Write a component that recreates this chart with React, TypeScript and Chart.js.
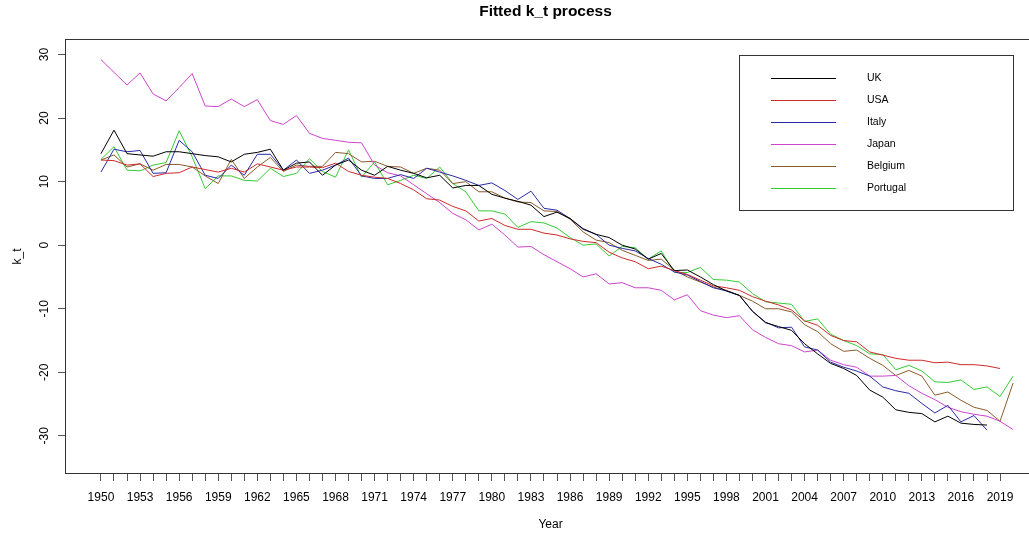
import React, { useEffect, useRef } from "react";
import { Chart, registerables } from "chart.js";

Chart.register(...registerables);

const YEARS = [
  1950, 1951, 1952, 1953, 1954, 1955, 1956, 1957, 1958, 1959,
  1960, 1961, 1962, 1963, 1964, 1965, 1966, 1967, 1968, 1969,
  1970, 1971, 1972, 1973, 1974, 1975, 1976, 1977, 1978, 1979,
  1980, 1981, 1982, 1983, 1984, 1985, 1986, 1987, 1988, 1989,
  1990, 1991, 1992, 1993, 1994, 1995, 1996, 1997, 1998, 1999,
  2000, 2001, 2002, 2003, 2004, 2005, 2006, 2007, 2008, 2009,
  2010, 2011, 2012, 2013, 2014, 2015, 2016, 2017, 2018, 2019,
  2020,
];

const UK = [
  14.4, 18.1, 14.4, 14.2, 14.0, 14.7, 14.7, 14.4, 14.1, 13.9,
  13.1, 14.3, 14.6, 15.1, 11.8, 12.9, 13.1, 11.0, 12.6, 13.4,
  11.8, 11.0, 12.4, 11.8, 11.3, 10.6, 11.0, 9.0, 9.4, 9.4,
  8.0, 7.4, 6.9, 6.3, 4.5, 5.2, 4.2, 2.6, 1.7, 1.2,
  0.0, -0.6, -2.2, -1.3, -4.0, -3.9, -5.0, -6.2, -7.2, -7.9,
  -10.4, -12.2, -12.8, -13.4, -15.5, -17.1, -18.6, -19.4, -20.5, -22.8,
  -23.9, -25.9, -26.3, -26.5, -27.8, -26.9, -28.0, -28.2, -28.3, null,
  null,
];

const USA = [
  13.4, 13.3, 12.6, 12.8, 10.8, 11.3, 11.4, 12.3, 11.9, 11.5,
  12.1, 11.5, 12.8, 12.3, 11.8, 12.3, 12.3, 12.2, 12.9, 11.6,
  11.0, 10.7, 10.5, 9.7, 8.7, 7.3, 7.1, 6.1, 5.4, 3.8,
  4.2, 3.1, 2.5, 2.5, 1.9, 1.6, 1.0, 0.6, 0.4, -1.1,
  -2.0, -2.6, -3.7, -3.3, -4.0, -4.6, -5.5, -6.4, -6.7, -7.1,
  -8.1, -8.8, -9.4, -10.2, -11.9, -12.6, -14.2, -15.0, -15.2, -16.8,
  -17.3, -17.8, -18.1, -18.1, -18.5, -18.4, -18.8, -18.8, -19.0, -19.4,
  null,
];

const ITALY = [
  11.5, 15.1, 14.7, 14.9, 11.3, 11.4, 16.5, 14.7, 11.0, 10.5,
  12.6, 11.0, 14.3, 14.3, 11.8, 13.4, 11.3, 11.8, 12.6, 13.7,
  10.9, 10.5, 10.5, 11.1, 10.5, 12.1, 11.5, 10.9, 10.2, 9.4,
  9.8, 8.6, 7.2, 8.5, 5.8, 5.5, 4.2, 2.5, 1.7, 0.0,
  -0.5, -0.9, -2.1, -3.0, -4.2, -4.7, -5.7, -6.7, -7.2, -7.9,
  -10.4, -12.1, -13.0, -12.9, -16.0, -16.5, -18.4, -19.2, -19.8, -20.6,
  -22.3, -22.9, -23.3, -24.9, -26.4, -25.2, -27.8, -26.8, -29.1, null,
  null,
];

const JAPAN = [
  29.2, 27.2, 25.2, 27.1, 23.8, 22.7, 24.8, 27.0, 21.9, 21.8,
  23.0, 21.8, 22.9, 19.6, 19.0, 20.4, 17.6, 16.8, 16.5, 16.2,
  16.1, 12.6, 11.4, 10.9, 9.5, 8.1, 6.7, 5.0, 4.0, 2.4,
  3.3, 1.6, -0.3, -0.2, -1.5, -2.6, -3.7, -5.0, -4.5, -6.1,
  -5.9, -6.7, -6.7, -7.1, -8.6, -7.8, -10.3, -11.0, -11.4, -11.1,
  -13.3, -14.5, -15.5, -15.8, -16.8, -16.5, -18.1, -18.8, -19.2, -20.6,
  -20.6, -20.5, -22.1, -23.3, -24.3, -25.5, -26.2, -26.6, -26.9, -27.7,
  -29.0,
];

const BELGIUM = [
  13.4, 14.2, 12.3, 12.8, 11.8, 12.7, 12.7, 12.3, 10.9, 9.7,
  13.5, 10.5, 12.3, 13.8, 11.6, 12.6, 12.4, 12.4, 14.6, 14.4,
  13.1, 13.2, 12.4, 12.3, 11.3, 12.1, 11.8, 9.7, 10.0, 8.4,
  8.4, 7.4, 6.8, 6.7, 5.4, 5.3, 4.1, 2.1, 0.8, 0.4,
  -0.8, -1.6, -2.4, -2.2, -3.9, -5.0, -5.8, -6.6, -7.1, -7.9,
  -8.8, -10.0, -10.0, -10.5, -12.5, -13.6, -15.5, -16.7, -16.5, -17.8,
  -18.9, -20.5, -19.7, -20.6, -23.6, -23.1, -24.4, -25.5, -26.0, -27.7,
  -21.7,
];

const PORTUGAL = [
  13.5, 15.5, 11.8, 11.7, 12.6, 13.0, 18.0, 13.9, 8.9, 10.9,
  10.9, 10.2, 10.1, 12.1, 10.8, 11.3, 13.6, 11.6, 10.7, 15.0,
  10.7, 13.1, 9.5, 10.2, 11.0, 10.5, 12.3, 9.7, 8.4, 5.4,
  5.4, 4.9, 2.8, 3.7, 3.5, 2.7, 1.2, 0.0, 0.2, -1.7,
  -0.2, -0.4, -2.2, -0.9, -4.3, -4.3, -3.5, -5.4, -5.5, -5.8,
  -7.6, -8.9, -9.1, -9.3, -12.0, -11.6, -14.0, -15.0, -15.8, -17.1,
  -17.2, -19.6, -18.9, -19.8, -21.5, -21.6, -21.2, -22.7, -22.3, -23.8,
  -20.6,
];

const SERIES_NAMES = ["UK", "USA", "Italy", "Japan", "Belgium", "Portugal"];
const SERIES_VALUES = [UK, USA, ITALY, JAPAN, BELGIUM, PORTUGAL];
const SERIES_COLORS = ["#000000", "#cc2b2b", "#2a2aa8", "#cc44cc", "#8b5a2b", "#33cc33"];

const X_TICK_YEARS = YEARS.filter((y) => y <= 2019);
const X_LABEL_YEARS = [
  1950, 1953, 1956, 1959, 1962, 1965, 1968, 1971, 1974, 1977, 1980, 1983,
  1986, 1989, 1992, 1995, 1998, 2001, 2004, 2007, 2010, 2013, 2016, 2019,
];
const Y_TICKS = [-30, -20, -10, 0, 10, 20, 30];

const TITLE = "Fitted k_t process";
const X_TITLE = "Year";
const Y_TITLE = "k_t";

const CANVAS_W = 1060;
const CANVAS_H = 536;
const X_MIN = 1947.24;
const X_MAX = 2021.76;
const Y_MIN = -36.0;
const Y_MAX = 32.44;
const FONT = "'Liberation Sans', Arial, Helvetica, sans-serif";

const rStylePlugin = {
  id: "rStyle",
  afterDraw(chart: any) {
    const { ctx, chartArea, scales } = chart;
    const { left, top, right, bottom } = chartArea;
    ctx.save();
    // plot frame
    ctx.strokeStyle = "#333333";
    ctx.lineWidth = 1;
    ctx.strokeRect(left + 0.5, top + 0.5, right - left, bottom - top - 1);

    // rotated y tick labels (R style)
    ctx.fillStyle = "#000000";
    ctx.font = `12px ${FONT}`;
    ctx.textAlign = "center";
    ctx.textBaseline = "middle";
    for (const v of Y_TICKS) {
      const py = scales.y.getPixelForValue(v);
      ctx.save();
      ctx.translate(44.5, py);
      ctx.rotate(-Math.PI / 2);
      ctx.fillText(String(v), 0, 0);
      ctx.restore();
    }

    // main title
    ctx.font = `bold 15.5px ${FONT}`;
    ctx.fillText(TITLE, (left + right) / 2 - 5, 12);

    // legend box
    const lx = 739.5, ly = 55.5, lw = 274, lh = 155;
    ctx.fillStyle = "#ffffff";
    ctx.fillRect(lx, ly, lw, lh);
    ctx.strokeStyle = "#333333";
    ctx.strokeRect(lx, ly, lw, lh);
    ctx.font = `10.5px ${FONT}`;
    ctx.textAlign = "left";
    chart.data.datasets.forEach((ds: any, i: number) => {
      const yy = Math.round(77.7 + i * 22.1) + 0.5;
      ctx.strokeStyle = ds.borderColor;
      ctx.beginPath();
      ctx.moveTo(771, yy);
      ctx.lineTo(836, yy);
      ctx.stroke();
      ctx.fillStyle = "#000000";
      ctx.fillText(ds.label, 867, yy);
    });
    ctx.restore();
  },
};

export default function App() {
  const ref = useRef<HTMLCanvasElement>(null);
  useEffect(() => {
    if (!ref.current) return;
    Chart.defaults.font.family = FONT;
    const datasets = SERIES_NAMES.map((name, i) => ({
      label: name,
      data: YEARS.map((yr, j) => ({ x: yr, y: SERIES_VALUES[i][j] })).filter(
        (p) => p.y !== null
      ),
      borderColor: SERIES_COLORS[i],
      backgroundColor: SERIES_COLORS[i],
      borderWidth: 1,
      pointRadius: 0,
      tension: 0,
      fill: false,
    }));
    const chart = new Chart(ref.current, {
      type: "line",
      data: { datasets },
      options: {
        animation: false,
        responsive: false,
        devicePixelRatio: 1,
        layout: { padding: { top: 39, right: CANVAS_W - 1036, left: 0, bottom: 0 } },
        plugins: {
          legend: { display: false },
          title: { display: false },
          tooltip: { enabled: false },
        },
        scales: {
          x: {
            type: "linear",
            min: X_MIN,
            max: X_MAX,
            position: "bottom",
            afterBuildTicks: (s: any) => {
              s.ticks = X_TICK_YEARS.map((v) => ({ value: v }));
            },
            afterFit: (s: any) => {
              s.height = 62;
            },
            ticks: {
              autoSkip: false,
              maxRotation: 0,
              minRotation: 0,
              padding: 9,
              color: "#000000",
              font: { size: 12, family: FONT },
              callback: (v: any) => (X_LABEL_YEARS.includes(Number(v)) ? String(v) : ""),
            },
            grid: {
              drawOnChartArea: false,
              drawTicks: true,
              tickLength: 7,
              color: "#555555",
            },
            border: { display: false },
            title: {
              display: true,
              text: X_TITLE,
              color: "#000000",
              font: { size: 12, family: FONT },
              padding: { top: 0, bottom: 4 },
            },
          },
          y: {
            type: "linear",
            min: Y_MIN,
            max: Y_MAX,
            position: "left",
            afterBuildTicks: (s: any) => {
              s.ticks = Y_TICKS.map((v) => ({ value: v }));
            },
            afterFit: (s: any) => {
              s.width = 65;
            },
            ticks: { display: false },
            grid: {
              drawOnChartArea: false,
              drawTicks: true,
              tickLength: 7,
              color: "#555555",
            },
            border: { display: false },
            title: {
              display: true,
              text: Y_TITLE,
              color: "#000000",
              font: { size: 12, family: FONT },
              padding: { top: 10.8, bottom: 0 },
            },
          },
        },
      },
      plugins: [rStylePlugin],
    } as any);
    return () => chart.destroy();
  }, []);

  return (
    <div
      style={{
        position: "fixed",
        left: 0,
        top: 0,
        width: 1029,
        height: 536,
        overflow: "hidden",
        background: "#ffffff",
      }}
    >
      <canvas
        ref={ref}
        width={CANVAS_W}
        height={CANVAS_H}
        style={{ display: "block", width: CANVAS_W, height: CANVAS_H }}
      />
    </div>
  );
}
